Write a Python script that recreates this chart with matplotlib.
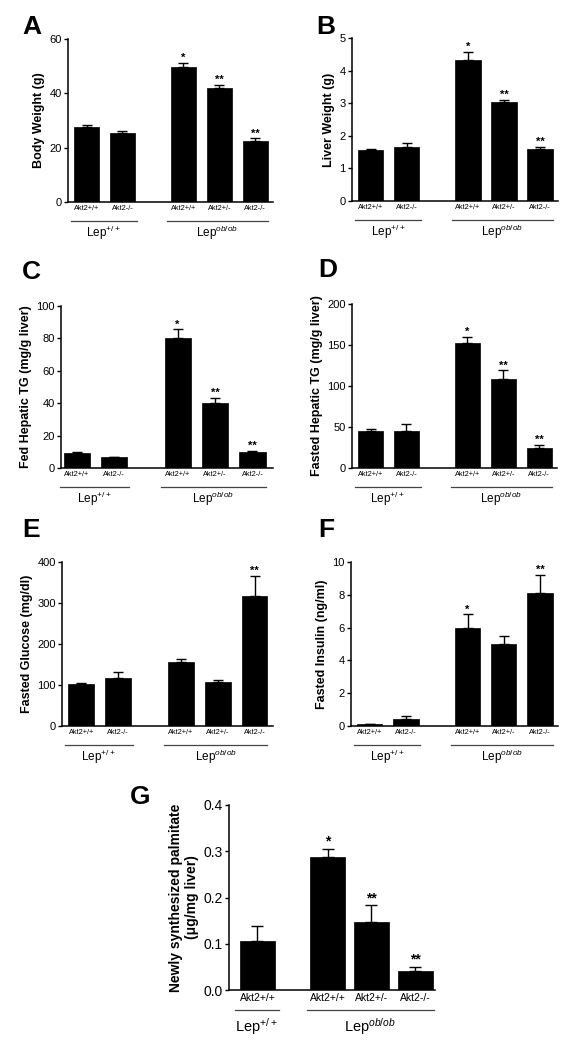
import matplotlib
matplotlib.use('Agg')
import matplotlib.pyplot as plt

plt.rcParams['font.family'] = ['Liberation Sans', 'DejaVu Sans']
plt.rcParams['mathtext.fontset'] = 'custom'
plt.rcParams['mathtext.rm'] = 'Liberation Sans'
plt.rcParams['mathtext.it'] = 'Liberation Sans:italic'
plt.rcParams['mathtext.default'] = 'regular'

# data
genotypes = ['Akt2+/+', 'Akt2-/-', 'Akt2+/+', 'Akt2+/-', 'Akt2-/-']
groups = ['Lep$^{+/+}$', 'Lep$^{\\mathit{ob/ob}}$']

body_weight = [27.5, 25.5, 49.8, 42.0, 22.5]
body_weight_err = [0.8, 0.7, 1.4, 1.0, 0.9]
body_weight_sig = ['', '', '*', '**', '**']

liver_weight = [1.55, 1.67, 4.33, 3.05, 1.60]
liver_weight_err = [0.03, 0.10, 0.25, 0.05, 0.05]
liver_weight_sig = ['', '', '*', '**', '**']

fed_tg = [9.5, 6.5, 80.0, 40.0, 10.0]
fed_tg_err = [0.5, 0.3, 5.5, 3.0, 0.8]
fed_tg_sig = ['', '', '*', '**', '**']

fasted_tg = [45, 45, 152, 108, 25]
fasted_tg_err = [2.5, 9, 8, 11, 3]
fasted_tg_sig = ['', '', '*', '**', '**']

glucose = [103, 118, 155, 107, 316]
glucose_err = [3, 13, 9, 6, 51]
glucose_sig = ['', '', '', '', '**']

insulin = [0.12, 0.40, 5.95, 5.0, 8.1]
insulin_err = [0.03, 0.2, 0.85, 0.5, 1.1]
insulin_sig = ['', '', '*', '', '**']

palm_genotypes = ['Akt2+/+', 'Akt2+/+', 'Akt2+/-', 'Akt2-/-']
palmitate = [0.105, 0.287, 0.148, 0.042]
palmitate_err = [0.033, 0.018, 0.035, 0.008]
palmitate_sig = ['', '*', '**', '**']

W, H = 582, 1050
fig = plt.figure(figsize=(W / 100, H / 100), dpi=100)


def px_axes(l, r, t, b):
    return fig.add_axes([l / W, 1 - b / H, (r - l) / W, (b - t) / H])


def bar_panel(ax, x, vals, errs, sig, labels, ylim, yticks, ylabel,
              width, lw_groups, fs_tick=8, fs_lab=9, fs_x=5.3, fs_grp=8.5,
              fs_star=8, line_off=19, text_off=31):
    ax.bar(x, vals, width=width, color='black', edgecolor='black', linewidth=0.5)
    ax.errorbar(x, vals, yerr=[[0] * len(vals), errs], fmt='none',
                ecolor='black', elinewidth=1, capsize=width * 5, capthick=1)
    for xi, v, e, s in zip(x, vals, errs, sig):
        if s:
            ax.annotate(s, (xi, v + e), xytext=(0, 0), textcoords='offset points',
                        ha='center', va='bottom', fontsize=fs_star, fontweight='bold')
    ax.set_ylim(*ylim)
    ax.set_yticks(yticks)
    ax.set_xticks(x)
    ax.set_xticklabels(labels, fontsize=fs_x)
    ax.tick_params(axis='x', length=0, pad=2)
    ax.tick_params(axis='y', length=3, width=1, labelsize=fs_tick, pad=1.5)
    ax.set_ylabel(ylabel, fontsize=fs_lab, fontweight='bold', labelpad=3)
    for s in ['top', 'right']:
        ax.spines[s].set_visible(False)
    for s in ['left', 'bottom']:
        ax.spines[s].set_linewidth(1.1)
    hpx = ax.get_position().height * H
    tr = ax.get_xaxis_transform()
    for (x1, x2), g in zip(lw_groups, groups):
        ax.plot([x1, x2], [-line_off / hpx] * 2, transform=tr, color='#444444',
                lw=0.9, clip_on=False)
        ax.text((x1 + x2) / 2, -text_off / hpx, g, transform=tr, ha='center',
                va='center', fontsize=fs_grp)


x5 = [0, 1, 2.7, 3.7, 4.7]
grp5 = [(-0.45, 1.4), (2.25, 5.05)]
xl5 = (-0.52, 5.2)

ax = px_axes(68, 273, 39, 202)
bar_panel(ax, x5, body_weight, body_weight_err, body_weight_sig, genotypes,
          (0, 60), [0, 20, 40, 60], 'Body Weight (g)', 0.7, grp5)
ax.set_xlim(*xl5)

ax = px_axes(352, 558, 38, 201)
bar_panel(ax, x5, liver_weight, liver_weight_err, liver_weight_sig, genotypes,
          (0, 5), [0, 1, 2, 3, 4, 5], 'Liver Weight (g)', 0.7, grp5)
ax.set_xlim(*xl5)

ax = px_axes(61, 273, 306, 468)
bar_panel(ax, x5, fed_tg, fed_tg_err, fed_tg_sig, genotypes,
          (0, 100), [0, 20, 40, 60, 80, 100], 'Fed Hepatic TG (mg/g liver)', 0.7, grp5)
ax.set_xlim(-0.42, 5.25)

ax = px_axes(352, 557, 304, 468)
bar_panel(ax, x5, fasted_tg, fasted_tg_err, fasted_tg_sig, genotypes,
          (0, 200), [0, 50, 100, 150, 200], 'Fasted Hepatic TG (mg/g liver)', 0.7, grp5)
ax.set_xlim(*xl5)

ax = px_axes(62, 273, 562, 726)
bar_panel(ax, x5, glucose, glucose_err, glucose_sig, genotypes,
          (0, 400), [0, 100, 200, 300, 400], 'Fasted Glucose (mg/dl)', 0.7, grp5)
ax.set_xlim(*xl5)

ax = px_axes(351, 558, 562, 726)
bar_panel(ax, x5, insulin, insulin_err, insulin_sig, genotypes,
          (0, 10), [0, 2, 4, 6, 8, 10], 'Fasted Insulin (ng/ml)', 0.7, grp5)
ax.set_xlim(*xl5)

x4 = [0, 1.6, 2.6, 3.6]
ax = px_axes(229, 435, 805, 990)
bar_panel(ax, x4, palmitate, palmitate_err, palmitate_sig, palm_genotypes,
          (0, 0.4), [0.0, 0.1, 0.2, 0.3, 0.4],
          'Newly synthesized palmitate\n(\u03bcg/mg liver)', 0.8,
          [(-0.52, 0.48), (1.12, 4.03)], fs_tick=10, fs_lab=10, fs_x=7.5,
          fs_grp=10.5, fs_star=10, line_off=20, text_off=37)
ax.set_yticklabels(['0.0', '0.1', '0.2', '0.3', '0.4'])
ax.set_xlim(-0.65, 4.05)

letters = [('A', 22, 27), ('B', 316, 27), ('C', 22, 272), ('D', 318, 270),
           ('E', 22, 530), ('F', 318, 530), ('G', 130, 797)]
for t, lx, ly in letters:
    fig.text(lx / W, 1 - ly / H, t, fontsize=19, fontweight='bold',
             ha='left', va='center')

fig.savefig('out.png', dpi=100)
